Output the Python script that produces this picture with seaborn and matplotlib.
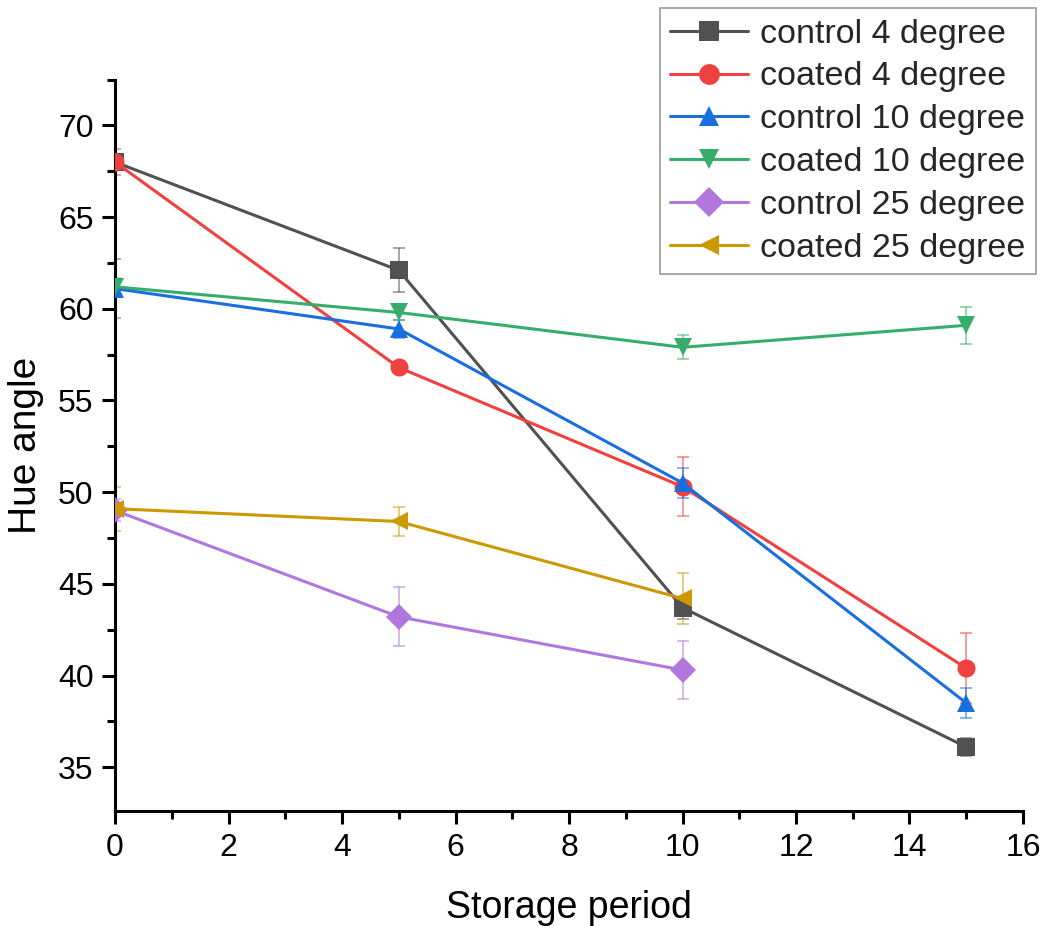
import numpy as np
import pandas as pd
import matplotlib
matplotlib.use("Agg")
import matplotlib.pyplot as plt
import seaborn as sns
from matplotlib.ticker import MultipleLocator

series_names = ["control 4 degree", "coated 4 degree", "control 10 degree",
                "coated 10 degree", "control 25 degree", "coated 25 degree"]
days_full = [0, 5, 10, 15]
days_short = [0, 5, 10]

control_4 = [68.0, 62.1, 43.7, 36.1]
control_4_err = [0.3, 1.2, 0.6, 0.5]
coated_4 = [68.0, 56.8, 50.3, 40.4]
coated_4_err = [0.7, 0.3, 1.6, 1.9]
control_10 = [61.1, 58.9, 50.5, 38.5]
control_10_err = [1.6, 0.5, 0.8, 0.8]
coated_10 = [61.2, 59.8, 57.9, 59.1]
coated_10_err = [0.5, 0.4, 0.65, 1.0]
control_25 = [49.0, 43.2, 40.3]
control_25_err = [0.6, 1.6, 1.6]
coated_25 = [49.1, 48.4, 44.2]
coated_25_err = [1.2, 0.8, 1.4]

values = [control_4, coated_4, control_10, coated_10, control_25, coated_25]
errors = [control_4_err, coated_4_err, control_10_err, coated_10_err,
          control_25_err, coated_25_err]
colors = ["#515151", "#F14040", "#1A6FDF", "#37AD6B", "#B177DE", "#CC9900"]
markers = ["s", "o", "^", "v", "D", "<"]

rows = []
for name, vals in zip(series_names, values):
    xs = days_full if len(vals) == 4 else days_short
    for x, v in zip(xs, vals):
        rows.append({"day": x, "hue": v, "series": name})
df = pd.DataFrame(rows)

sns.set_style("ticks")
plt.rcParams["font.family"] = ["Liberation Sans", "DejaVu Sans"]

fig = plt.figure(figsize=(10.46, 9.26), dpi=100)
ax = fig.add_axes([0.110, 0.124, 0.868, 0.790])

# error bars
for name, vals, errs, c in zip(series_names, values, errors, colors):
    xs = days_full if len(vals) == 4 else days_short
    ax.errorbar(xs, vals, yerr=errs, fmt="none", ecolor=c, alpha=0.55,
                elinewidth=1.3, capsize=4.5, capthick=1.3, zorder=1)

sns.lineplot(data=df, x="day", y="hue", hue="series", style="series",
             hue_order=series_names, style_order=series_names,
             palette=dict(zip(series_names, colors)),
             markers=dict(zip(series_names, markers)), dashes=False,
             markersize=13, linewidth=2.2, markeredgewidth=0,
             ax=ax, zorder=3, legend=True)

ax.set_xlim(0, 16)
ax.set_ylim(32.6, 72.5)
ax.xaxis.set_major_locator(MultipleLocator(2))
ax.xaxis.set_minor_locator(MultipleLocator(1))
ax.yaxis.set_minor_locator(MultipleLocator(2.5))
ax.yaxis.set_ticks([35, 40, 45, 50, 55, 60, 65, 70])

for side in ["top", "right"]:
    ax.spines[side].set_visible(False)
for side in ["left", "bottom"]:
    ax.spines[side].set_linewidth(2.2)
    ax.spines[side].set_color("black")
ax.tick_params(which="major", length=9.5, width=2.2, labelsize=23,
               direction="out", pad=6, colors="black")
ax.tick_params(which="minor", length=5.5, width=2.2, direction="out", colors="black")

ax.set_xlabel("Storage period", fontsize=27, labelpad=20, color="black")
ax.set_ylabel("Hue angle", fontsize=28, labelpad=10, color="black")

handles, labels = ax.get_legend_handles_labels()
leg = ax.legend(handles, labels, loc="upper left",
                bbox_to_anchor=(0.631, 0.991), bbox_transform=fig.transFigure,
                fontsize=24.5, frameon=True, fancybox=False, edgecolor="#808080",
                handlelength=2.3, handletextpad=0.35, labelspacing=0.35,
                borderpad=0.3, borderaxespad=0, markerscale=1.15)
leg.get_frame().set_linewidth(1.2)
for h in leg.legend_handles:
    h.set_linewidth(2.2)

fig.savefig("out.png", dpi=100)
